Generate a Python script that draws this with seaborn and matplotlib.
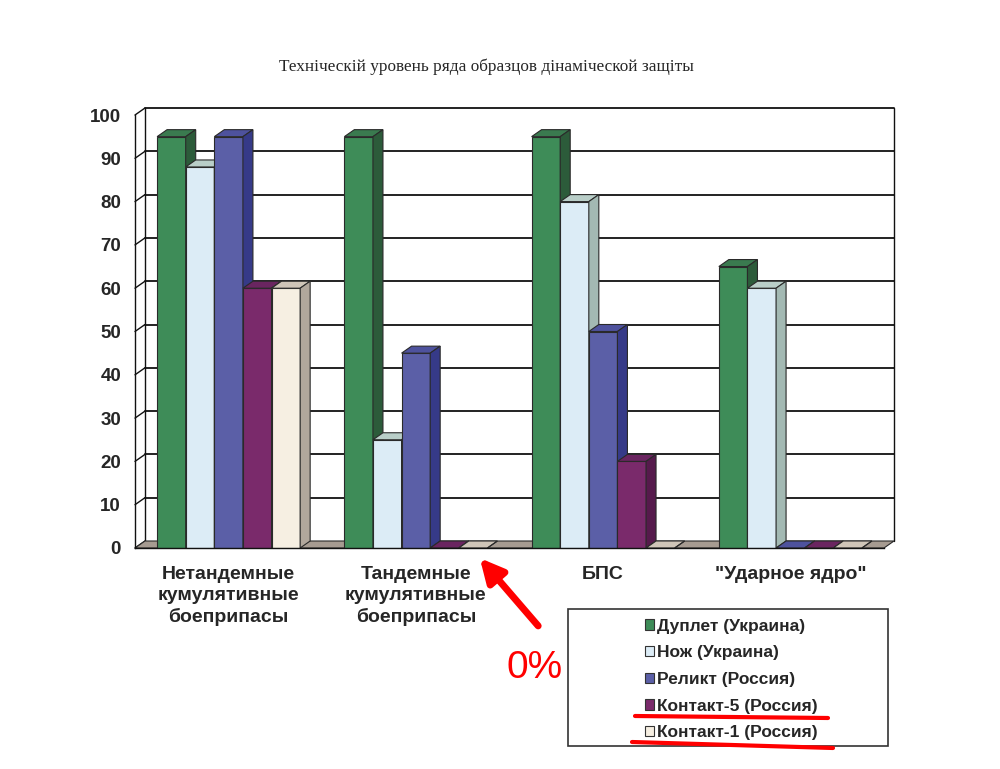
import pandas as pd
import matplotlib
matplotlib.use("Agg")
import matplotlib.pyplot as plt
from matplotlib.patches import Polygon, Rectangle, Patch
import seaborn as sns

categories = ["Нетандемные\nкумулятивные\nбоеприпасы", "Тандемные\nкумулятивные\nбоеприпасы",
              "БПС", "\"Ударное ядро\""]
series = ["Дуплет (Украина)", "Нож (Украина)", "Реликт (Россия)",
          "Контакт-5 (Россия)", "Контакт-1 (Россия)"]
duplet = [95, 95, 95, 65]
nozh = [88, 25, 80, 60]
relikt = [95, 45, 50, 0]
kontakt5 = [60, 0, 20, 0]
kontakt1 = [60, 0, 0, 0]
yticks = list(range(0, 101, 10))

front_col = ["#3e8c58", "#dcecf6", "#5b5fa7", "#7a2a6b", "#f6efe2"]
top_col = ["#3a7a4f", "#b9cec8", "#4e529d", "#6a2560", "#cfc5b8"]
side_col = ["#2c5b3a", "#a3b9b3", "#363a88", "#561a4c", "#b1a79c"]

sns.set_style("white")
plt.rcParams["font.family"] = ["Liberation Sans", "DejaVu Sans"]

df = pd.DataFrame({
    "cat": categories * 5,
    "series": sum([[s] * 4 for s in series], []),
    "val": duplet + nozh + relikt + kontakt5 + kontakt1,
})

fig = plt.figure(figsize=(10, 7.69), dpi=100)
ax = fig.add_axes([0.135, (769 - 548) / 769, 0.749, (548 - 115) / 769])

sns.barplot(data=df, x="cat", y="val", hue="series", order=categories, hue_order=series,
            palette=front_col, saturation=1, width=0.764, edgecolor="#2a2a2a", linewidth=0.8,
            legend=False, ax=ax)

ax.set_xlim(-0.5, 3.5)
ax.set_ylim(0, 100)

# 3D depth offsets (data units)
dx = 10 / 187.25
dy = 7 / 4.33

# floor
ax.add_patch(Polygon([(-0.5, 0), (-0.5 + dx, dy), (3.5 + dx, dy), (3.5, 0)],
                     closed=True, facecolor="#a69b91", edgecolor="#2a2a2a", lw=0.8,
                     zorder=1.5, clip_on=False))

# back wall grid and frame
for v in yticks[1:]:
    ax.plot([-0.5 + dx, 3.5 + dx], [v + dy, v + dy], color="#111111", lw=1.3,
            zorder=1, clip_on=False)
for v in yticks:
    ax.plot([-0.5, -0.5 + dx], [v, v + dy], color="#111111", lw=1.0, zorder=1, clip_on=False)
ax.plot([-0.5 + dx, -0.5 + dx], [dy, 100 + dy], color="#111111", lw=1.0, zorder=1, clip_on=False)
ax.plot([3.5 + dx, 3.5 + dx], [dy, 100 + dy], color="#111111", lw=1.0, zorder=1, clip_on=False)

# extrude bars
bars = []
for i, cont in enumerate(ax.containers):
    for b in cont:
        bars.append((b.get_x(), i, b))
bars.sort(key=lambda t: t[0])
for k, (x0, i, b) in enumerate(bars):
    z = 2 + k * 0.01
    w = b.get_width()
    h = b.get_height()
    b.set_zorder(z)
    ax.add_patch(Polygon([(x0, h), (x0 + dx, h + dy), (x0 + w + dx, h + dy), (x0 + w, h)],
                         closed=True, facecolor=top_col[i], edgecolor="#2a2a2a", lw=0.8,
                         zorder=z, clip_on=False))
    ax.add_patch(Polygon([(x0 + w, 0), (x0 + w + dx, dy), (x0 + w + dx, h + dy), (x0 + w, h)],
                         closed=True, facecolor=side_col[i], edgecolor="#2a2a2a", lw=0.8,
                         zorder=z, clip_on=False))

# axes styling
for s in ["top", "right"]:
    ax.spines[s].set_visible(False)
for s in ["left", "bottom"]:
    ax.spines[s].set_color("#111111")
    ax.spines[s].set_linewidth(1.0)
    ax.spines[s].set_zorder(5)
ax.set_yticks(yticks)
ax.set_yticklabels([str(v) for v in yticks], fontsize=13.5, fontweight="bold")
ax.set_xticks([-0.5, 0.5, 1.5, 2.5, 3.5])
ax.set_xticklabels([])
ax.set_xticks([0, 1, 2, 3], minor=True)
ax.set_xticklabels(categories, minor=True, fontsize=14, fontweight="bold", linespacing=1.3)
ax.tick_params(axis="x", which="major", direction="out", length=5, color="#111111")
ax.tick_params(axis="x", which="minor", length=0, pad=13)
ax.tick_params(axis="y", direction="out", length=5, color="#111111", pad=5)
ax.set_xlabel("")
ax.set_ylabel("")
ax.grid(False)
ax.patch.set_alpha(0)

# title
fig.text(0.486, 1 - 67 / 769, "Технiческiй уровень ряда образцов дiнамiческой защiты",
         ha="center", va="center", fontsize=12.4, family="Liberation Serif")

# legend box
fig.patches.append(Rectangle((568 / 1000, 1 - 746 / 769), 320 / 1000, 137 / 769,
                             transform=fig.transFigure, facecolor="white",
                             edgecolor="#333333", lw=1.2))
handles = [Patch(facecolor=c, edgecolor="#333333", lw=0.8) for c in front_col]
fig.legend(handles, series, loc="upper left", bbox_to_anchor=(0.629, 1 - 603 / 769),
           frameon=False, prop={"weight": "bold", "size": 12.5}, handlelength=0.55,
           handleheight=0.55, handletextpad=0.15, labelspacing=0.67)

# red annotations
fig.add_artist(plt.Line2D([0.635, 0.828], [1 - 716 / 769, 1 - 718 / 769], color="red", lw=3))
fig.add_artist(plt.Line2D([0.632, 0.833], [1 - 742 / 769, 1 - 748 / 769], color="red", lw=3))
ax.annotate("", xy=(478, 769 - 556), xycoords="figure pixels",
            xytext=(540, 769 - 628), textcoords="figure pixels",
            arrowprops=dict(arrowstyle="-|>,head_length=1.4,head_width=0.7", color="red", lw=5))
fig.text(0.535, 1 - 668 / 769, "0%", color="red", fontsize=28, ha="center", va="center",
         family="Liberation Sans")

fig.savefig("out.png", dpi=100, facecolor="white")
